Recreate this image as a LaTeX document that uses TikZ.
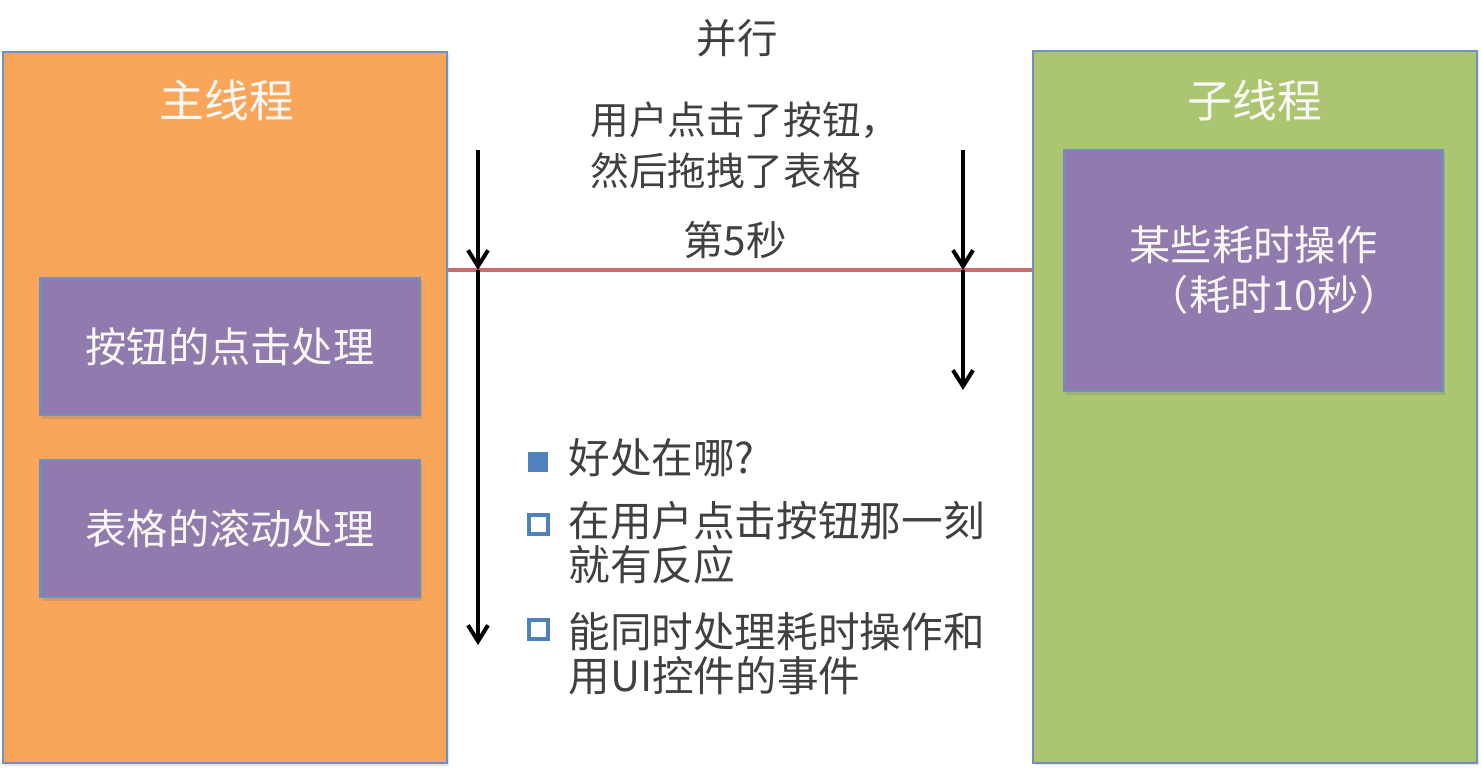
\documentclass[tikz,border=0pt]{standalone}
\usepackage{fontspec}
\setmainfont{Noto Sans CJK SC}
\usetikzlibrary{positioning,arrows.meta,shadows}
\definecolor{mainorange}{RGB}{249,166,90}
\definecolor{subgreen}{RGB}{171,197,113}
\definecolor{taskpurple}{RGB}{145,122,174}
\definecolor{edgeblue}{RGB}{108,145,194}
\definecolor{bulletblue}{RGB}{79,129,189}
\definecolor{fifthred}{RGB}{206,108,108}
\definecolor{textgray}{RGB}{64,64,64}
\definecolor{softwhite}{RGB}{250,248,245}

\begin{document}
\begin{tikzpicture}[
  x = 0.2mm, y = -0.2mm,
  thread/.style = {draw=edgeblue, line width=0.4mm, inner sep=0pt,
                   minimum width=88.8mm, minimum height=142.2mm,
                   drop shadow={shadow xshift=0.3mm, shadow yshift=-0.5mm,
                                opacity=0.2}},
  task/.style   = {draw=edgeblue, line width=0.4mm, fill=taskpurple,
                   minimum width=76mm, inner sep=0pt, align=center,
                   text=softwhite, font=\fontsize{23.5}{28.5}\selectfont,
                   drop shadow={shadow xshift=0.4mm, shadow yshift=-0.8mm,
                                opacity=0.3}},
  ttl/.style    = {text=softwhite, inner sep=0pt,
                   font=\fontsize{25.5}{30}\selectfont},
  note/.style   = {text=textgray, inner sep=0pt,
                   font=\fontsize{23}{26}\selectfont},
  item/.style   = {note, anchor=west, align=left,
                   font=\fontsize{23.7}{25}\selectfont},
  fullmark/.style  = {fill=bulletblue, inner sep=0pt, minimum size=4mm},
  emptymark/.style = {draw=bulletblue, line width=0.8mm, inner sep=0pt,
                      minimum size=3.8mm},
  arr/.style    = {-{Straight Barb[length=3.2mm, width=4mm]},
                   line width=0.8mm, black},
  tline/.style  = {line width=0.7mm, fifthred},
]
\useasboundingbox (0,0) rectangle (1482,768);

\node[thread, fill=mainorange] (main) at (225,407.5) {};
\node[thread, fill=subgreen]   (sub)  at (1255,407)  {};
\node[ttl] (mainttl) at (227,100)  {主线程};
\node[ttl] (subttl)  at (1255,100) {子线程};

\node[task, minimum height=27.4mm] (click)  at (230,346.5) {按钮的点击处理};
\node[task, minimum height=27.4mm] (scroll) at (230,528.5) {表格的滚动处理};
\node[task, minimum width=75.8mm, minimum height=48.2mm] (work)
     at (1253.5,270.5) {某些耗时操作\\\hspace*{1em}（耗时10秒）};

\node[note] (para) at (737,38) {并行};
\node[note, anchor=west, align=left, font=\fontsize{22}{37}\selectfont]
     (user) at (590,145) {用户点击了按钮，\\[-8pt]然后拖拽了表格};
\node[note] (sec5) at (735,240) {第5秒};

\coordinate (lt) at (478,150);
\coordinate (lm) at (478,270);
\coordinate (lb) at (478,645);
\coordinate (rt) at (963,150);
\coordinate (rm) at (963,270);
\coordinate (rb) at (963,390);

\draw[tline] (main.east |- lm) -- (sub.west |- lm);
\draw[arr] (lt) -- (lm);
\draw[arr] (lm) -- (lb);
\draw[arr] (rt) -- (rm);
\draw[arr] (rm) -- (rb);

\node[item] (why)   at (568,458) {好处在哪?};
\node[item] (fast)  at (568,543) {在用户点击按钮那一刻\\就有反应};
\node[item] (both)  at (568,654) {能同时处理耗时操作和\\用UI控件的事件};
\node[fullmark]  (whymark)  at (538,462) {};
\node[emptymark] (fastmark) at (538,525) {};
\node[emptymark] (bothmark) at (538,630) {};
\end{tikzpicture}
\end{document}
